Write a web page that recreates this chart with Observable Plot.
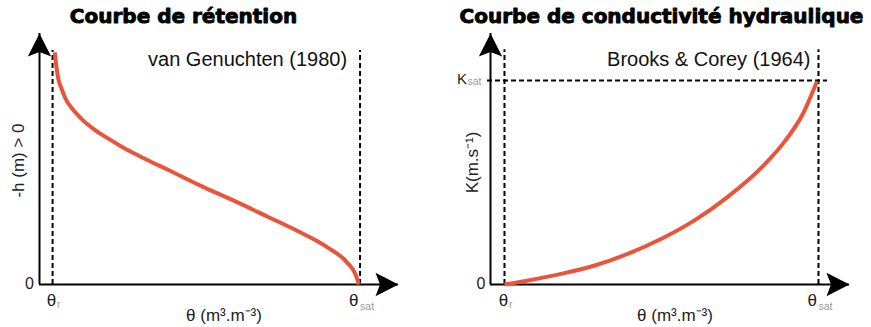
<!DOCTYPE html>
<html>
<head>
<meta charset="utf-8">
<script src="https://cdn.jsdelivr.net/npm/d3@7"></script>
<script src="https://cdn.jsdelivr.net/npm/@observablehq/plot@0.6"></script>
<style>
  body { margin: 0; background: #fff; }
  #wrap { position: relative; width: 871px; height: 327px; overflow: hidden; }
  .panel { position: absolute; top: 0; }
</style>
</head>
<body>
<div id="wrap">
  <div id="left" class="panel" style="left:0px"></div>
  <div id="right" class="panel" style="left:436px"></div>
</div>
<script>
// ---- data (normalised units) ----
const titles = ["Courbe de rétention", "Courbe de conductivité hydraulique"];
const models = ["van Genuchten (1980)", "Brooks & Corey (1964)"];
const xLabel = "θ (m³.m⁻³)";
const yLabels = ["-h (m) > 0", "K(m.s⁻¹)"];
const thetaR = 0.05;
const thetaSat = 0.45;
const kSat = 1;

// retention curve: theta vs -h (relative units, 0 at saturation)
const retentionTheta = [0.0530, 0.0548, 0.0574, 0.0617, 0.0669, 0.0760, 0.0886, 0.1058, 0.1231, 0.1361, 0.1552, 0.1773, 0.1994, 0.2422, 0.2851, 0.3292, 0.3721, 0.4071, 0.4331, 0.4435, 0.4474, 0.4484];
const retentionH     = [92.5,   87.3,   82.0,   78.0,   74.0,   69.9,   65.7,   61.4,   58.0,   55.6,   52.4,   49.0,   45.8,   39.4,   33.5,   27.1,   20.8,   14.9,   8.8,    4.4,    1.2,    0];

// conductivity curve: theta vs K / Ksat
const condTheta = [0.050, 0.080, 0.122, 0.165, 0.207, 0.250, 0.292, 0.334, 0.378, 0.408, 0.429, 0.448];
const condK     = [0.000, 0.020, 0.052, 0.093, 0.150, 0.224, 0.314, 0.428, 0.575, 0.706, 0.828, 0.995];

// ---- styles ----
const RED = "#e9553b";
const FONT = "Liberation Sans, Arial, sans-serif";
const TITLE_FONT = "DejaVu Sans, sans-serif";
const SUB = "#9a9a9a";

// filled arrowhead symbol (tip at origin, pointing up)
const arrowHead = {
  draw(ctx) {
    ctx.moveTo(0, 0);
    ctx.lineTo(11.7, 23);
    ctx.lineTo(0, 18.5);
    ctx.lineTo(-11.7, 23);
    ctx.closePath();
  }
};

const retention = retentionTheta.map((t, i) => ({theta: t, h: retentionH[i]}));
const conductivity = condTheta.map((t, i) => ({theta: t, k: condK[i]}));

function frameMarks(xd, yd) {
  return [
    Plot.ruleY([yd[0]], {x1: xd[0], x2: xd[1], stroke: "black", strokeWidth: 2}),
    Plot.ruleX([xd[0]], {y1: yd[0], y2: yd[1], stroke: "black", strokeWidth: 2}),
    Plot.dot([{x: xd[0], y: yd[1]}], {x: "x", y: "y", symbol: arrowHead, fill: "black", stroke: "none"}),
    Plot.dot([{x: xd[1], y: yd[0]}], {x: "x", y: "y", symbol: arrowHead, fill: "black", stroke: "none", rotate: 90})
  ];
}

function thetaTicks() {
  return [
    Plot.text(["θ"], {x: thetaR, frameAnchor: "bottom", text: d => d, textAnchor: "middle", lineAnchor: "bottom", dx: -1, dy: 21, fontSize: 17, fontFamily: FONT, fill: "#222"}),
    Plot.text(["r"], {x: thetaR, frameAnchor: "bottom", text: d => d, textAnchor: "start", lineAnchor: "bottom", dx: 4.5, dy: 23, fontSize: 10.5, fontFamily: FONT, fill: SUB}),
    Plot.text(["θ"], {x: thetaSat, frameAnchor: "bottom", text: d => d, textAnchor: "end", lineAnchor: "bottom", dx: -1.5, dy: 21, fontSize: 17, fontFamily: FONT, fill: "#222"}),
    Plot.text(["sat"], {x: thetaSat, frameAnchor: "bottom", text: d => d, textAnchor: "start", lineAnchor: "bottom", dx: 0, dy: 25, fontSize: 10.5, fontFamily: FONT, fill: SUB}),
    Plot.text([xLabel], {frameAnchor: "bottom", text: d => d, textAnchor: "middle", lineAnchor: "bottom", dx: 5, dy: 36, fontSize: 17, fontFamily: FONT, fill: "#222"})
  ];
}

// ---- left panel: retention curve ----
const xdL = [0.033, 0.5], ydL = [0, 100];
const left = Plot.plot({
  width: 436, height: 327,
  marginLeft: 39, marginRight: 38, marginTop: 33, marginBottom: 43,
  x: {domain: xdL, axis: null},
  y: {domain: ydL, axis: null},
  style: {fontFamily: FONT, background: "white", overflow: "visible"},
  marks: [
    Plot.ruleX([thetaR, thetaSat], {y1: 0, y2: 93.2, stroke: "black", strokeWidth: 2, strokeDasharray: "5,3"}),
    ...frameMarks(xdL, ydL),
    Plot.line(retention, {x: "theta", y: "h", stroke: RED, strokeWidth: 4, curve: "monotone-x", strokeLinecap: "butt"}),
    Plot.text(["0"], {x: xdL[0], y: 0, text: d => d, textAnchor: "end", lineAnchor: "middle", dx: -5.5, dy: -1, fontSize: 16, fontFamily: FONT, fill: "#222"}),
    ...thetaTicks(),
    Plot.text([yLabels[0]], {frameAnchor: "left", text: d => d, rotate: -90, textAnchor: "middle", lineAnchor: "middle", dx: -21, dy: 1.5, fontSize: 17, fontFamily: FONT, fill: "#222"}),
    Plot.text([models[0]], {x: thetaSat, frameAnchor: "top", text: d => d, textAnchor: "end", lineAnchor: "bottom", dx: -13, dy: 32, fontSize: 20, fontFamily: FONT, fill: "#111"}),
    Plot.text([titles[0]], {frameAnchor: "top", text: d => d, textAnchor: "middle", lineAnchor: "bottom", dx: -35.5, dy: -11, fontSize: 20, fontWeight: "bold", fontFamily: TITLE_FONT, fill: "black", stroke: "black", strokeWidth: 0.9})
  ]
});
document.getElementById("left").appendChild(left);

// ---- right panel: conductivity curve ----
const xdR = [0.0322, 0.4895], ydR = [0, 1.23];
const right = Plot.plot({
  width: 435, height: 327,
  marginLeft: 54, marginRight: 22, marginTop: 33, marginBottom: 43,
  x: {domain: xdR, axis: null},
  y: {domain: ydR, axis: null},
  style: {fontFamily: FONT, background: "white", overflow: "visible"},
  marks: [
    Plot.ruleX([thetaR, thetaSat], {y1: 0, y2: 1.15, stroke: "black", strokeWidth: 2, strokeDasharray: "5,3"}),
    Plot.ruleY([kSat], {x1: 0.0284, x2: 0.4615, stroke: "black", strokeWidth: 2, strokeDasharray: "5,3"}),
    ...frameMarks(xdR, ydR),
    Plot.line(conductivity, {x: "theta", y: "k", stroke: RED, strokeWidth: 4, curve: "monotone-x", strokeLinecap: "butt"}),
    Plot.text(["0"], {x: xdR[0], y: 0, text: d => d, textAnchor: "end", lineAnchor: "middle", dx: -5, dy: -1, fontSize: 16, fontFamily: FONT, fill: "#222"}),
    Plot.text(["K"], {x: xdR[0], y: kSat, text: d => d, textAnchor: "end", lineAnchor: "bottom", dx: -23.5, dy: 3.5, fontSize: 15, fontFamily: FONT, fill: "#222"}),
    Plot.text(["sat"], {x: xdR[0], y: kSat, text: d => d, textAnchor: "start", lineAnchor: "bottom", dx: -23, dy: 4.5, fontSize: 10.5, fontFamily: FONT, fill: SUB}),
    ...thetaTicks(),
    Plot.text([yLabels[1]], {frameAnchor: "left", text: d => d, rotate: -90, textAnchor: "middle", lineAnchor: "middle", dx: -18, dy: 3.5, fontSize: 17, fontFamily: FONT, fill: "#222"}),
    Plot.text([models[1]], {x: thetaSat, frameAnchor: "top", text: d => d, textAnchor: "end", lineAnchor: "bottom", dx: -8, dy: 32, fontSize: 20, fontFamily: FONT, fill: "#111"}),
    Plot.text([titles[1]], {frameAnchor: "top", text: d => d, textAnchor: "middle", lineAnchor: "bottom", dx: -8.5, dy: -11, fontSize: 20, fontWeight: "bold", fontFamily: TITLE_FONT, fill: "black", stroke: "black", strokeWidth: 0.9})
  ]
});
document.getElementById("right").appendChild(right);
</script>
</body>
</html>
